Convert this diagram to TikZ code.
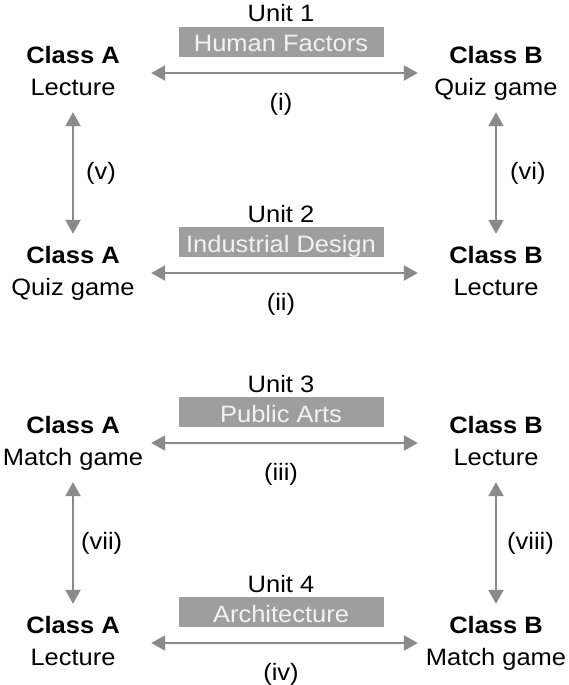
\documentclass[tikz,border=0pt]{standalone}
\usepackage{fontspec}
\setmainfont{Liberation Sans}[FakeStretch=1.075]
\usepackage{xcolor}
\usetikzlibrary{arrows.meta}

\definecolor{linkgray}{RGB}{138,138,138}
\definecolor{boxgray}{RGB}{158,158,158}
\definecolor{boxtext}{RGB}{242,242,242}

\tikzset{
  cls/.style={align=center, inner sep=0pt, minimum width=156pt, minimum height=78pt,
    font=\fontsize{23.7}{31.5}\selectfont},
  unitlabel/.style={anchor=base, inner sep=0pt, font=\fontsize{23.7}{28}\selectfont},
  topicbox/.style={fill=boxgray, text=boxtext, inner sep=0pt, minimum width=205pt,
    minimum height=30pt, text height=22pt, text depth=2pt, font=\fontsize{23.7}{28}\selectfont},
  tag/.style={inner sep=0pt, font=\fontsize{23.7}{28}\selectfont},
  link/.style={draw=linkgray, line width=2.4pt,
    {Triangle[length=14pt,width=15pt]}-{Triangle[length=14pt,width=15pt]}},
}

\begin{document}
\begin{tikzpicture}[x=1pt, y=-1pt]
                \useasboundingbox (0,0) rectangle (569,685);
                \foreach \y/\u/\topic/\ta/\tb/\r in {73/1/Human Factors/Lecture/Quiz game/i,
                        273/2/Industrial Design/Quiz game/Lecture/ii,
                        443/3/Public Arts/Match game/Lecture/iii,
                        643/4/Architecture/Lecture/Match game/iv} {
                    \node[cls] (A\u) at (73, \y) {\textbf{Class A}\strut\\\ta\strut};
                    \node[cls] (B\u) at (496, \y) {\textbf{Class B}\strut\\\tb\strut};
                    \node[unitlabel] (U\u) at (281, \y-51) {Unit \u};
                    \node[topicbox] (T\u) at (281, \y-31) {\topic};
                    \draw[link] (A\u) -- (B\u);
                    \node[tag, anchor=base] (R\u) at (281, \y+37) {(\r)};
                }
                \draw[link] (A1) -- node[tag, right=12pt] (V5) {(v)} (A2);
                \draw[link] (B1) -- node[tag, right=13pt] (V6) {(vi)} (B2);
                \draw[link] (A3) -- node[tag, right=7pt] (V7) {(vii)} (A4);
                \draw[link] (B3) -- node[tag, right=10pt] (V8) {(viii)} (B4);
            \end{tikzpicture}
\end{document}
